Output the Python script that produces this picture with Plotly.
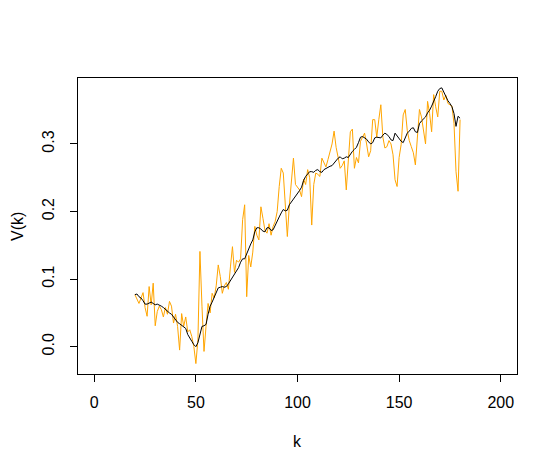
import plotly.graph_objects as go

k = list(range(20, 181))

v_raw = [
    0.077, 0.070, 0.064, 0.072, 0.080, 0.058, 0.045, 0.089, 0.062, 0.094,
    0.031, 0.052, 0.060, 0.055, 0.044, 0.058, 0.048, 0.067, 0.060, 0.035,
    0.048, 0.030, -0.005, 0.049, 0.030, 0.044, 0.022, 0.025, 0.015, 0.000,
    -0.025, 0.010, 0.141, 0.060, -0.007, 0.030, 0.064, 0.050, 0.079, 0.072,
    0.090, 0.121, 0.104, 0.079, 0.090, 0.095, 0.085, 0.118, 0.148, 0.110,
    0.128, 0.125, 0.130, 0.188, 0.210, 0.074, 0.135, 0.118, 0.140, 0.178,
    0.165, 0.158, 0.207, 0.190, 0.172, 0.168, 0.182, 0.165, 0.178, 0.185,
    0.200, 0.237, 0.264, 0.257, 0.215, 0.163, 0.210, 0.247, 0.279, 0.240,
    0.235, 0.232, 0.222, 0.248, 0.240, 0.262, 0.250, 0.180, 0.240, 0.257,
    0.255, 0.252, 0.279, 0.272, 0.266, 0.277, 0.289, 0.300, 0.319, 0.295,
    0.280, 0.264, 0.268, 0.275, 0.232, 0.275, 0.318, 0.322, 0.264, 0.280,
    0.272, 0.304, 0.310, 0.316, 0.300, 0.281, 0.290, 0.336, 0.336, 0.310,
    0.336, 0.358, 0.310, 0.294, 0.296, 0.305, 0.300, 0.284, 0.247, 0.237,
    0.280, 0.299, 0.343, 0.351, 0.320, 0.305, 0.296, 0.287, 0.269, 0.305,
    0.351, 0.340, 0.318, 0.300, 0.363, 0.345, 0.318, 0.373, 0.355, 0.340,
    0.378, 0.378, 0.365, 0.372, 0.360, 0.358, 0.356, 0.330, 0.259, 0.230,
    0.336,
]

v_smooth = [
    0.077, 0.078, 0.074, 0.072, 0.068, 0.063, 0.063, 0.065, 0.066, 0.064,
    0.062, 0.063, 0.062, 0.060, 0.058, 0.055, 0.052, 0.050, 0.048, 0.044,
    0.040, 0.036, 0.034, 0.032, 0.030, 0.027, 0.018, 0.012, 0.008, 0.003,
    0.000, 0.006, 0.018, 0.030, 0.031, 0.033, 0.048, 0.060, 0.066, 0.073,
    0.080, 0.087, 0.088, 0.089, 0.088, 0.089, 0.093, 0.098, 0.103, 0.107,
    0.112, 0.117, 0.125, 0.130, 0.130, 0.138, 0.147, 0.152, 0.158, 0.170,
    0.176, 0.176, 0.174, 0.171, 0.170, 0.176, 0.176, 0.172, 0.173, 0.180,
    0.186, 0.192, 0.198, 0.203, 0.201, 0.202, 0.210, 0.214, 0.218, 0.222,
    0.226, 0.231, 0.236, 0.246, 0.252, 0.256, 0.259, 0.259, 0.258, 0.261,
    0.262, 0.259, 0.258, 0.262, 0.264, 0.265, 0.267, 0.268, 0.272, 0.276,
    0.279, 0.281, 0.278, 0.279, 0.281, 0.280, 0.285, 0.289, 0.292, 0.295,
    0.302, 0.310, 0.311, 0.309, 0.307, 0.303, 0.300, 0.302, 0.309, 0.310,
    0.309, 0.309, 0.313, 0.316, 0.314, 0.311, 0.306, 0.305, 0.316, 0.312,
    0.309, 0.304, 0.302, 0.310, 0.316, 0.319, 0.323, 0.324, 0.318, 0.317,
    0.330, 0.334, 0.337, 0.340, 0.346, 0.350, 0.356, 0.362, 0.370, 0.378,
    0.382, 0.383, 0.376, 0.370, 0.364, 0.360, 0.355, 0.345, 0.326, 0.341,
    0.338,
]

x_ticks = [0, 50, 100, 150, 200]
y_ticks = [0.0, 0.1, 0.2, 0.3]
y_tick_labels = ["0.0", "0.1", "0.2", "0.3"]

FONT = "Liberation Sans, Arial, sans-serif"

fig = go.Figure()
fig.add_trace(go.Scatter(x=k, y=v_raw, mode="lines",
                         line=dict(color="#FFA500", width=1), showlegend=False))
fig.add_trace(go.Scatter(x=k, y=v_smooth, mode="lines",
                         line=dict(color="black", width=1), showlegend=False))

axis_common = dict(showline=True, mirror=True, linecolor="black", linewidth=1,
                   showgrid=False, zeroline=False, ticks="outside", ticklen=7,
                   tickwidth=1, tickcolor="black",
                   tickfont=dict(family=FONT, size=16, color="black"))

fig.update_xaxes(range=[-8, 208], tickvals=x_ticks, ticklabelstandoff=7,
                 **axis_common)
fig.update_yaxes(range=[-0.0404, 0.3976], tickvals=y_ticks, ticktext=y_tick_labels,
                 tickangle=-90, ticklabelstandoff=10, **axis_common)

fig.add_annotation(text="k", xref="paper", yref="paper", x=0.5, y=-0.2287,
                   xanchor="center", yanchor="middle", showarrow=False,
                   font=dict(family=FONT, size=16, color="black"))
fig.add_annotation(text="V(k)", xref="paper", yref="paper", x=-0.139, y=0.5,
                   xanchor="center", yanchor="middle", showarrow=False, textangle=-90,
                   font=dict(family=FONT, size=16, color="black"))

fig.update_layout(width=558, height=472,
                  margin=dict(l=70, r=49, t=70, b=106),
                  plot_bgcolor="white", paper_bgcolor="white",
                  font=dict(family=FONT, size=16, color="black"))

fig.write_html("out.html")
